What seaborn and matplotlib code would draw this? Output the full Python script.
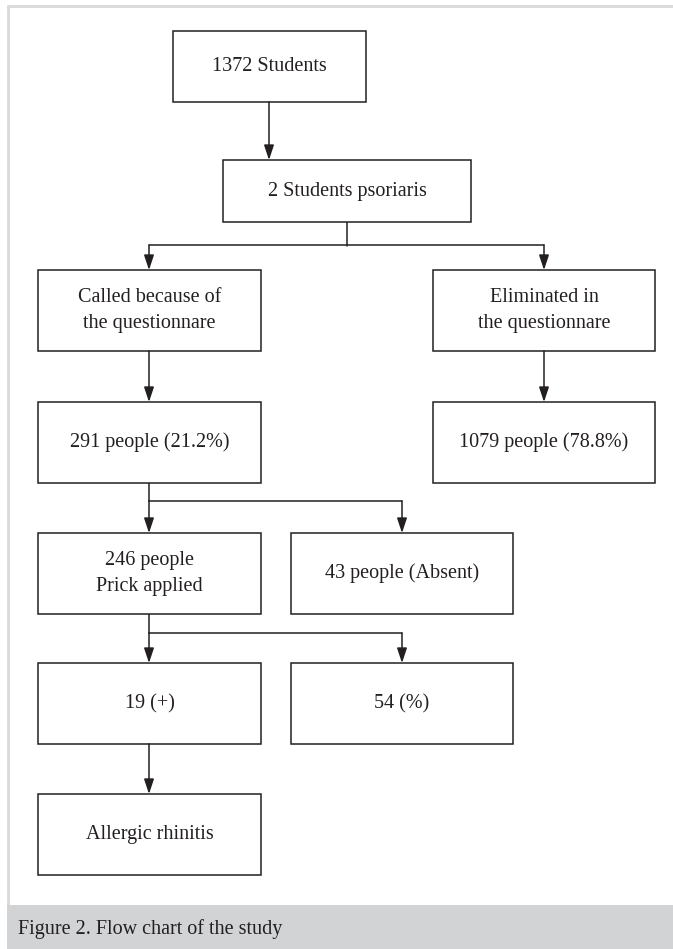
import matplotlib
matplotlib.use("Agg")
import matplotlib.pyplot as plt
from matplotlib.patches import Rectangle
import seaborn as sns

sns.set_theme(style="white")
plt.rcParams['font.family'] = ['Liberation Serif', 'DejaVu Serif']

# ---- data -------------------------------------------------------------
labels = ["1372 Students", "2 Students psoriaris",
          "Called because of\nthe questionnare", "Eliminated in\nthe questionnare",
          "291 people (21.2%)", "1079 people (78.8%)",
          "246 people\nPrick applied", "43 people (Absent)",
          "19 (+)", "54 (%)", "Allergic rhinitis"]
caption = "Figure 2. Flow chart of the study"

# ---- layout (pixel coordinates, y downward) ---------------------------
boxes = [(173, 31, 366, 102), (223, 160, 471, 222),
         (38, 270, 261, 351), (433, 270, 655, 351),
         (38, 402, 261, 483), (433, 402, 655, 483),
         (38, 533, 261, 614), (291, 533, 513, 614),
         (38, 663, 261, 744), (291, 663, 513, 744),
         (38, 794, 261, 875)]
# plain connector lines
lines = [((347, 222), (347, 246)), ((149, 245), (544, 245)),
         ((149, 483), (149, 501)), ((149, 501), (402, 501)),
         ((149, 614), (149, 633)), ((149, 633), (402, 633))]
# arrows (start, end)
arrows = [((269, 102), (269, 160)),
          ((149, 245), (149, 270)), ((544, 245), (544, 270)),
          ((149, 351), (149, 402)), ((544, 351), (544, 402)),
          ((149, 501), (149, 533)), ((402, 501), (402, 533)),
          ((149, 633), (149, 663)), ((402, 633), (402, 663)),
          ((149, 744), (149, 794))]

W, H = 673, 949
ink = "#231f20"
fig = plt.figure(figsize=(W / 100, H / 100), dpi=100)
ax = fig.add_axes([0, 0, 1, 1])
ax.set_xlim(0, W)
ax.set_ylim(H, 0)
ax.axis("off")

# frame
ax.add_patch(Rectangle((7, 5), W, H, facecolor="white", edgecolor="none", zorder=0))
ax.plot([8, 8], [5, 905], color="#d9d9d9", lw=2, solid_capstyle="butt", zorder=1)
ax.plot([7, W], [6, 6], color="#d9d9d9", lw=2, solid_capstyle="butt", zorder=1)
ax.add_patch(Rectangle((7, 905), W - 7, H - 905, facecolor="#d1d3d4", edgecolor="none", zorder=1))
ax.text(18, 929, caption, fontsize=14.5, color=ink, va="center", ha="left", zorder=2)

for (x0, y0, x1, y1), lab in zip(boxes, labels):
    ax.add_patch(Rectangle((x0, y0), x1 - x0, y1 - y0, facecolor="white",
                           edgecolor=ink, lw=1.1, zorder=3))
    ax.text((x0 + x1) / 2, (y0 + y1) / 2, lab, ha="center", va="center",
            fontsize=14.5, color=ink, linespacing=1.45, zorder=4)

for (a, b) in lines:
    ax.plot([a[0], b[0]], [a[1], b[1]], color=ink, lw=1.1, zorder=2)

for (a, b) in arrows:
    ax.annotate("", xy=b, xytext=a,
                arrowprops=dict(arrowstyle="-|>,head_length=0.9,head_width=0.3",
                                color=ink, lw=1.1, mutation_scale=10,
                                shrinkA=0, shrinkB=0), zorder=4)

fig.savefig("out.png", dpi=100)
